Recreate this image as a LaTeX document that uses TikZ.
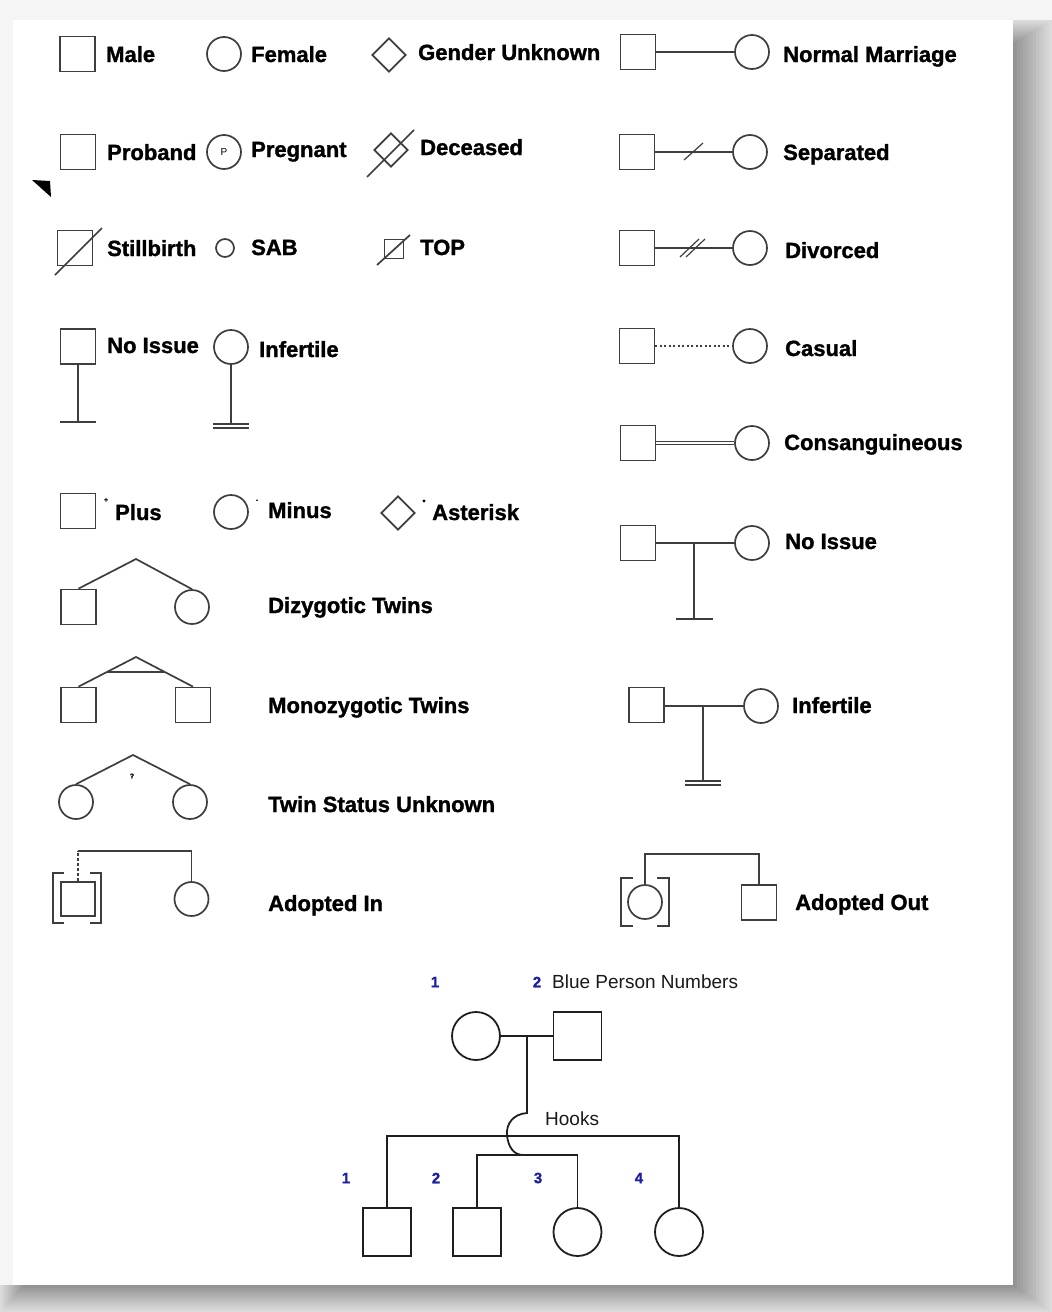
\documentclass[tikz,border=0pt]{standalone}
\usepackage{fontspec}
\setmainfont{Liberation Sans}[BoldFeatures={FakeBold=1.3}]
\usetikzlibrary{shapes.geometric,calc}
\definecolor{blu}{RGB}{30,30,160}
\definecolor{ink}{RGB}{62,62,62}
\begin{document}
\begin{tikzpicture}[x=1pt,y=-1pt,
  ln/.style={draw=ink,line width=1.7pt},
  ped/.style={draw=black!88,line width=1.8pt},
  sq/.style={ln,rectangle,minimum size=35,inner sep=0},
  ci/.style={ln,circle,minimum size=34,inner sep=0},
  di/.style={ln,diamond,aspect=1,minimum width=34,minimum height=34,inner sep=0},
  psq/.style={ped,rectangle,minimum size=48,inner sep=0},
  pci/.style={ped,circle,minimum size=48,inner sep=0},
  lbl/.style={anchor=base west,inner sep=0,font=\bfseries\fontsize{22}{26}\selectfont,text=black},
  reg/.style={anchor=base west,inner sep=0,font=\fontsize{19}{22}\selectfont,text=black!90},
  num/.style={inner sep=0,font=\bfseries\fontsize{15}{18}\selectfont,text=blu},
  tiny/.style={inner sep=0,font=\bfseries\fontsize{7}{7}\selectfont}]
\useasboundingbox (0,0) rectangle (1052,1312);
% background and drop shadow
\fill[black!4] (0,0) rectangle (1052,1312);
\foreach \k [evaluate=\k as \c using 14+2.5*\k,
             evaluate=\k as \xa using 2*\k,
             evaluate=\k as \ya using 20+2*\k,
             evaluate=\k as \xb using 1052-3.2*\k,
             evaluate=\k as \yb using 1312-2.2*\k] in {0,...,12}
  {\fill[black!\c] (1013,\ya) -- (\xb,\ya) -- (\xb,\yb) -- (\xa,\yb) -- (\xa,1285) -- (1013,1285) -- cycle;}
\fill[white] (13,20) rectangle (1013,1285);

% ---------- row 1
\node[sq] (male) at (77.5,54) {};
\node[lbl] (tmale) at (106,62) {Male};
\node[ci] (fem) at (224,54) {};
\node[lbl] (tfem) at (251,62) {Female};
\node[di] (gu) at (389,55) {};
\node[lbl] (tgu) at (418,60) {Gender Unknown};
\node[sq] (nm1) at (638,52) {};
\node[ci] (nm2) at (752,52) {};
\draw[ln] (nm1) -- (nm2);
\node[lbl] (tnm) at (783,62) {Normal Marriage};

% ---------- row 2
\node[sq] (prob) at (78,152) {};
\fill[black] (32,180) -- (50,181) -- (51,197) -- cycle;
\node[lbl] (tprob) at (107,160) {Proband};
\node[ci] (preg) at (224,152) {\fontsize{10}{10}\selectfont P};
\node[lbl] (tpreg) at (251,157) {Pregnant};
\node[di] (dec) at (391,150) {};
\draw[ln] ($(dec)+(-24,27)$) -- ($(dec)+(23,-20)$);
\node[lbl] (tdec) at (420,155) {Deceased};
\node[sq] (sp1) at (637,152) {};
\node[ci] (sp2) at (750,152) {};
\draw[ln] (sp1) -- (sp2);
\draw[ln,line width=1.2pt] (684,160) -- (703,143);
\node[lbl] (tsp) at (783,160) {Separated};

% ---------- row 3
\node[sq] (still) at (75,248) {};
\draw[ln] (55,275) -- (102,228);
\node[lbl] (tstill) at (107,256) {Stillbirth};
\node[ci,minimum size=18] (sab) at (225,248) {};
\node[lbl] (tsab) at (251,255) {SAB};
\node[sq,minimum size=19] (top) at (394,249) {};
\draw[ln] (377,265) -- (410,235);
\node[lbl] (ttop) at (420,255) {TOP};
\node[sq] (dv1) at (637,248) {};
\node[ci] (dv2) at (750,248) {};
\draw[ln] (dv1) -- (dv2);
\draw[ln,line width=1.2pt] (680,257) -- (699,239);
\draw[ln,line width=1.2pt] (686,257) -- (705,239);
\node[lbl] (tdv) at (785,258) {Divorced};

% ---------- row 4
\node[sq] (ni) at (78,346.5) {};
\coordinate (nib) at (78,422);
\draw[ln] (ni.south) -- (nib);
\draw[ln] ($(nib)+(-18,0)$) -- ($(nib)+(18,0)$);
\node[lbl] (tni) at (107,353) {No Issue};
\node[ci] (inf) at (231,347) {};
\coordinate (infb) at (231,424);
\draw[ln] (inf.south) -- (infb);
\draw[ln,line width=1.3pt] ($(infb)+(-18,0)$) -- ($(infb)+(18,0)$);
\draw[ln,line width=1.3pt] ($(infb)+(-18,4)$) -- ($(infb)+(18,4)$);
\node[lbl] (tinf) at (259,357) {Infertile};
\node[sq] (cs1) at (637,346) {};
\node[ci] (cs2) at (750,346) {};
\draw[ln,line width=1.2pt,dash pattern=on 2pt off 2.5pt] (cs1) -- (cs2);
\node[lbl] (tcs) at (785,356) {Casual};

% ---------- row 5
\node[sq] (cg1) at (638,443) {};
\node[ci] (cg2) at (752,443) {};
\draw[draw=ink,line width=1.3pt,double=white,double distance=1.3pt] (cg1) -- (cg2);
\node[lbl] (tcg) at (784,450) {Consanguineous};

% ---------- row 6
\node[sq] (plus) at (78,511) {};
\node[tiny] (splus) at (106,500) {+};
\node[lbl] (tplus) at (115,520) {Plus};
\node[ci] (minus) at (231,512) {};
\node[tiny] (sminus) at (257,501) {-};
\node[lbl] (tminus) at (268,518) {Minus};
\node[di] (ast) at (398,513) {};
\node[tiny] (sast) at (424,502) {*};
\node[lbl] (tast) at (432,520) {Asterisk};

\node[sq] (rn1) at (638,543) {};
\node[ci] (rn2) at (752,543) {};
\draw[ln] (rn1) -- (rn2);
\coordinate (rnt) at (694,543);
\coordinate (rnb) at (694,619);
\draw[ln] (rnt) -- (rnb);
\draw[ln] ($(rnb)+(-18,0)$) -- ($(rnb)+(19,0)$);
\node[lbl] (trn) at (785,549) {No Issue};

% ---------- twins
\coordinate (dza) at (136,559);
\node[sq] (dz1) at (78.5,607) {};
\node[ci] (dz2) at (192,607) {};
\draw[ln] (dz1.north) -- (dza) -- (dz2.north);
\node[lbl] (tdz) at (268,613) {Dizygotic Twins};

\coordinate (mza) at (136,657);
\node[sq] (mz1) at (78.5,705) {};
\node[sq] (mz2) at (193,705) {};
\draw[ln] (mz1.north) -- (mza) -- (mz2.north);
\draw[ln] ($(mza)!0.5!(mz1.north)$) -- ($(mza)!0.5!(mz2.north)$);
\node[lbl] (tmz) at (268,713) {Monozygotic Twins};

\coordinate (tua) at (133,755);
\node[ci] (tu1) at (76,802) {};
\node[ci] (tu2) at (190,802) {};
\draw[ln] (tu1.north) -- (tua) -- (tu2.north);
\node[tiny] (tuq) at (132,776) {?};
\node[lbl] (ttu) at (268,812) {Twin Status Unknown};

% ---------- adopted in
\node[sq,minimum size=34] (ai1) at (78,899) {};
\node[ci] (ai2) at (191.5,899) {};
\coordinate (aic) at (78,851);
\draw[ln,dash pattern=on 3pt off 2pt] (ai1.north) -- (aic);
\draw[ln] (aic) -| (ai2.north);
\draw[ln] (64,873) -| (53,923) -- (64,923);
\draw[ln] (90,873) -| (101,923) -- (90,923);
\node[lbl] (tai) at (268,911) {Adopted In};

% ---------- right infertile
\node[sq] (ri1) at (646.5,705) {};
\node[ci] (ri2) at (761,706) {};
\draw[ln] (ri1.east |- ri2.west) -- (ri2.west);
\coordinate (rit) at (703,706);
\coordinate (rib) at (703,781);
\draw[ln] (rit) -- (rib);
\draw[ln,line width=1.3pt] ($(rib)+(-18,0)$) -- ($(rib)+(18,0)$);
\draw[ln,line width=1.3pt] ($(rib)+(-18,4)$) -- ($(rib)+(18,4)$);
\node[lbl] (tri) at (792,713) {Infertile};

% ---------- adopted out
\node[ci] (ao1) at (645,902) {};
\node[sq] (ao2) at (759,902.5) {};
\coordinate (aoc) at (645,854);
\draw[ln] (ao1.north) -- (aoc) -| (ao2.north);
\draw[ln] (633,878) -| (621,926) -- (633,926);
\draw[ln] (657,878) -| (669,926) -- (657,926);
\node[lbl] (tao) at (795,910) {Adopted Out};

% ---------- pedigree
\node[num] (n1) at (435,982) {1};
\node[num] (n2) at (537,982) {2};
\node[reg,anchor=west] (tbpn) at (552,982) {Blue Person Numbers};
\node[pci] (p1) at (476,1036) {};
\node[psq] (p2) at (577.5,1036) {};
\draw[ped] (p1) -- (p2);
\coordinate (mid) at (527,1036);
\coordinate (hk) at (527,1113);
\coordinate (s1) at (533,1136);
\coordinate (s2) at (523,1155);
\draw[ped] (mid) -- (hk) .. controls (513,1114) and (506,1124) .. (507,1135)
  .. controls (508,1147) and (514,1155) .. (s2);
\node[reg,anchor=west] (thk) at (545,1119) {Hooks};
\node[psq] (c1) at (387,1232) {};
\node[psq] (c2) at (477,1232) {};
\node[pci] (c3) at (577.5,1232) {};
\node[pci] (c4) at (679,1232) {};
\draw[ped] (c1.north) |- (s1) -| (c4.north);
\draw[ped] (c2.north) |- (s2) -| (c3.north);
\node[num] (m1) at (346,1178) {1};
\node[num] (m2) at (436,1178) {2};
\node[num] (m3) at (538,1178) {3};
\node[num] (m4) at (639,1178) {4};
\end{tikzpicture}
\end{document}
